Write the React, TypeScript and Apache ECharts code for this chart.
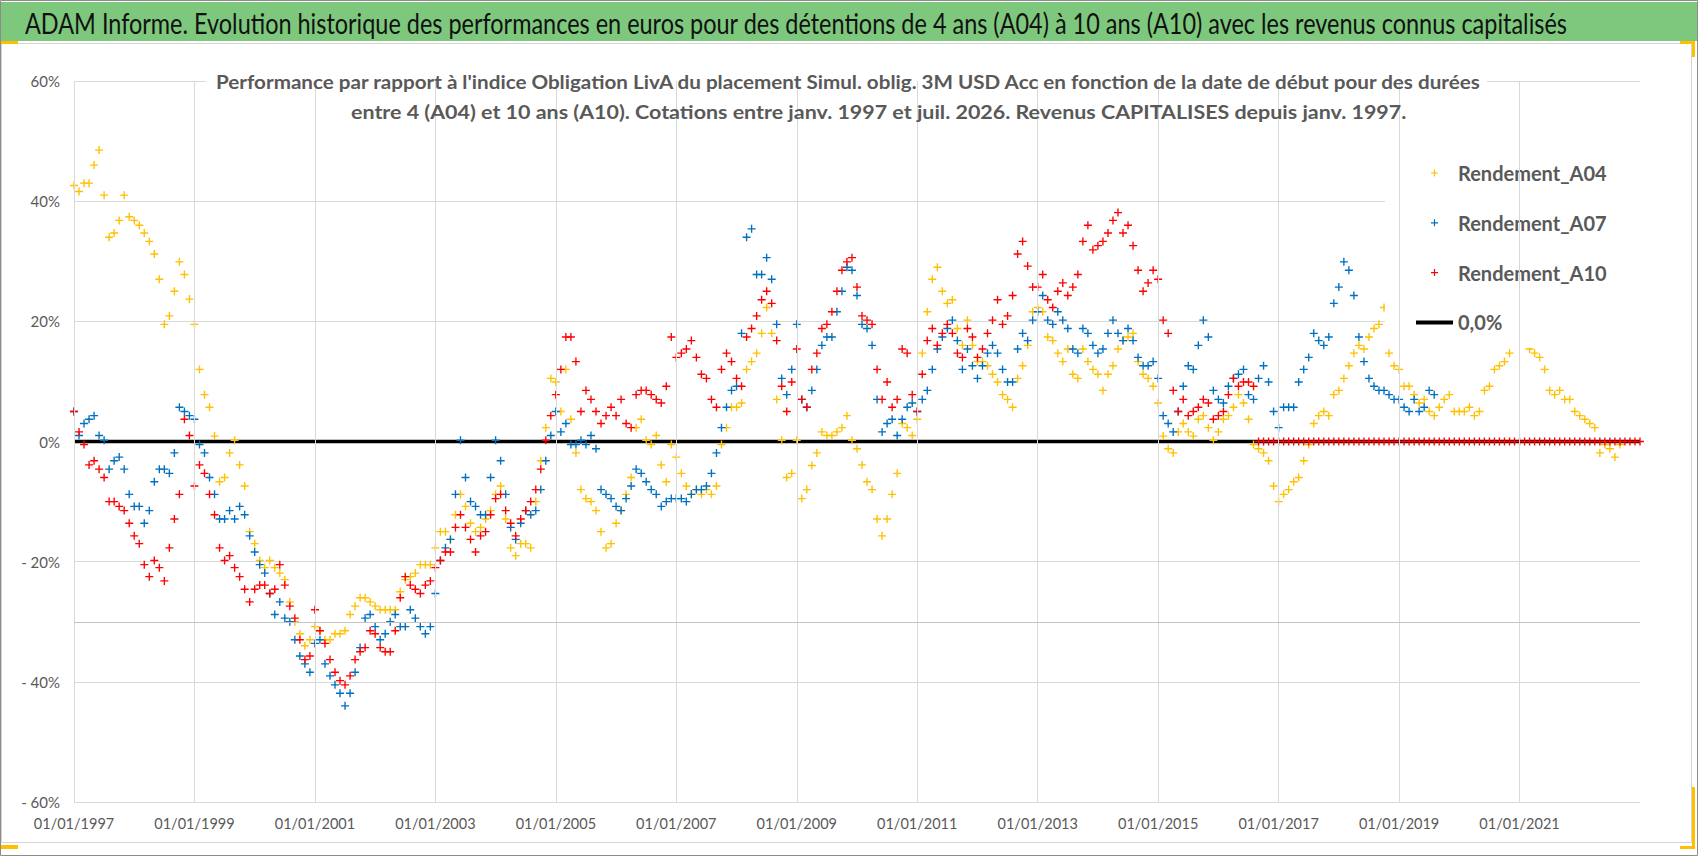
import React, { useEffect, useRef } from 'react';
import * as echarts from 'echarts';

// ---------- DATA (monthly values, % , first value = January 1997) ----------
const START_YEAR = 1997;

const RENDEMENT_A04 = [
  42.6, 41.6, 43, 43, 46, 48.5, 41, 34, 34.7, 36.8, 41, 37.4,
  36.8, 36, 34.7, 33.3, 31.2, 27, 19.5, 20.9, 25, 29.9, 27.8, 23.7,
  19.5, 12, 7.8, 5.7, 0.9, -6.7, -6, -1.9, 0.2, -3.9, -7.4, -15,
  -17, -19.8, -21, -19.8, -21, -21.9, -23, -26.7, -30, -32, -34, -33,
  -30.8, -31.5, -33, -33, -32, -32, -31.5, -28.8, -27.4, -26, -26, -26.7,
  -27.4, -28, -28, -28, -28, -25, -23, -22.5, -21.9, -20.5, -20.5, -20.5,
  -17.7, -15, -15, -16.3, -12.2, -8.8, -10.8, -13.6, -15, -14.3, -12.9, -11.5,
  -8.8, -7.4, -12.9, -17.7, -19, -17, -17, -17.7, -10, -3.2, 2.3, 10.5,
  9.9, 5, 12, 3.7, -1.9, -8, -9.5, -10, -11.5, -15, -17.7, -17,
  -13.6, -11.5, -8.8, -6, 2.3, 3.7, 0.2, -0.5, 1, -3.9, -6.7, -0.5,
  -2.6, -5.3, -7.4, -8.8, -8, -8.8, -8, -8.8, -7.4, -0.5, 2.3, 5.7,
  5.7, 6.4, 12, 13.3, 14.7, 18, 22.3, 18, 7, 0.2, -6, -5.3,
  0.2, -9.5, -8, -4, -1.9, 1.6, 1, 1, 1.6, 2.3, 4.3, 0.2,
  -1.2, -3.9, -6.7, -8, -12.9, -15.7, -12.9, -8.8, -5.3, 3, 2.3, 1,
  3.7, 14.7, 21.6, 27, 29, 25, 23, 23.6, 18.8, 16, 20.2, 16,
  13.3, 13.3, 12.6, 11.2, 9.9, 7.8, 7, 5.7, 10.5, 12.6, 16, 21.6,
  22.3, 21.6, 17.4, 16.8, 14.7, 13.3, 15.4, 11.2, 10.5, 15.4, 13.3, 12,
  11.2, 8.5, 11.2, 12.6, 15.4, 16.8, 17.4, 18, 13.3, 11.2, 10.5, 9.2,
  6.4, 0.9, -1.2, -1.9, 1.6, 3, 1.6, 0.9, 3.7, 4.3, 2.3, 0.2,
  1.6, 3.7, 4.3, 5.7, 7.8, 6.4, 3.7, -0.5, -1.2, -1.9, -3.2, -7.4,
  -10, -8.8, -8, -6.7, -6, -3.2, -0.5, 3, 4.3, 5, 4.3, 7.8,
  8.5, 10.5, 12.6, 14.7, 16, 15.4, 17.4, 18.8, 19.5, 22.3, 14.7, 12.6,
  12, 9.2, 9.2, 7.8, 6.4, 7, 5, 4.3, 5.7, 7, 7.8, 5,
  5, 5, 5.7, 4.3, 5, 8.5, 9.2, 12, 12.6, 13.3, 14.7, 18,
  19, 18, 15.4, 14.7, 14, 12, 8.5, 7.8, 8.5, 7, 7, 5,
  4.3, 3.7, 3, 2.3, -1.9, -0.5, -1.2, -2.6, -0.5,
];

const RENDEMENT_A07 = [
  5, 1, 3, 3.7, 4.3, 1, 0.2, -4.6, -3.2, -2.6, -4.6, -8.8,
  -10.8, -10.8, -13.6, -11.5, -6.7, -4.6, -4.6, -5.3, -1.9, 5.7, 5, 4.3,
  3.7, -0.5, -1.9, -6, -8.8, -12.9, -12.9, -11.5, -12.9, -10.8, -12.2, -15.7,
  -18.4, -20.5, -21.9, -25.3, -28.8, -26.7, -29.4, -30, -33, -35.7, -37, -38.4,
  -33.6, -33, -37, -39, -40.5, -41.9, -44, -41.9, -38.4, -34.3, -29.4, -28.8,
  -30.8, -33, -32, -30, -28.8, -30.8, -30.8, -28, -29.4, -30.8, -32, -30.8,
  -25.3, -19.8, -17.7, -16.3, -8.8, 0.2, -6, -10, -10.8, -12.2, -12.2, -6,
  0.2, -3.2, -8.8, -14.3, -16.3, -13.6, -11.5, -12.2, -11.5, -8, -3.2, 1,
  5, 1.6, 3, -0.5, -0.5, 0.2, -0.5, 1, -1.2, -8, -8.8, -9.5,
  -10.8, -11.5, -9.5, -7.4, -4.6, -5.3, -6.7, -8, -8.8, -10.8, -10, -9.5,
  -9.5, -9.5, -10, -8.8, -8, -8, -7.4, -5.3, -1.9, 2.3, 5.7, 8.5,
  9.2, 18, 34, 35.4, 27.8, 27.8, 30.6, 27, 19.5, 10.5, 7.8, 12,
  19.5, 7, 5.7, 8.5, 12, 16, 17.4, 17.4, 21.6, 25, 29, 28.5,
  24.3, 19.5, 18.8, 16, 7, 1.6, 3, 3.7, 1, 3.7, 5.7, 6.4,
  5, 7, 8.5, 12, 15.4, 17.4, 18.8, 20.2, 16.8, 12, 15.4, 12.6,
  10.5, 12.6, 14.7, 16, 14.7, 12, 9.9, 9.9, 15.4, 18, 16.8, 20.2,
  21.6, 24.3, 20.2, 19.5, 21.6, 20.2, 18.8, 15.4, 14.7, 18.8, 18, 16,
  14.7, 15.4, 18, 20.2, 18, 16.8, 18.8, 16.8, 14, 12.6, 12.6, 13.3,
  10.5, 4.3, 3, 1.6, 5, 9.2, 12.6, 12, 16, 20.2, 17.4, 8.5,
  7, 6.4, 9.2, 10.5, 11.2, 12, 7.8, 7, 10.5, 12.6, 9.9, 5,
  2.3, 5.7, 5.7, 5.7, 9.9, 12, 14, 18, 16.8, 16, 17.4, 23,
  25.7, 29.9, 28.5, 24.3, 17.4, 13.3, 10.5, 9.2, 8.5, 8.5, 7.8, 7,
  7, 5.7, 5, 7, 5, 5.7, 8.5, 7.8,
];

const RENDEMENT_A10 = [
  5, 1.6, -0.5, -3.9, -3.2, -4.6, -6, -10, -10, -10.8, -11.5, -13.6,
  -15.7, -17, -20.5, -22.5, -19.8, -21, -23.2, -17.7, -12.9, -8.8, 3.7, 1,
  -7.4, -3.9, -5.3, -8.8, -12.2, -17.7, -19.8, -19, -21, -22.5, -24.6, -26.7,
  -24.6, -23.9, -23.9, -25.3, -24.6, -20.5, -23.9, -27.4, -29.4, -33, -36.3, -35.7,
  -28, -31.5, -33.6, -36.3, -38.4, -39.8, -40.5, -39, -36.3, -35, -34.3, -31.5,
  -32, -34.3, -35, -35, -31.5, -26, -22.5, -23.9, -24.6, -25.3, -23.9, -23.2,
  -21, -19.8, -18.4, -18.4, -14.3, -12.2, -14.3, -16.3, -18.4, -15.7, -15, -12.2,
  -9.5, -8.8, -11.5, -13.6, -15.7, -12.9, -11.5, -10, -8, -4.6, 0.2, 4.3,
  7.8, 12, 17.4, 17.4, 13.3, 5, 8.5, 7, 5, 3, 4.3, 5.7,
  4.3, 7, 3, 2.3, 7.8, 8.5, 8.5, 7.8, 7, 6.4, 9.2, 17.4,
  14, 14.7, 15.4, 16.8, 14, 11.2, 10.5, 7, 5.7, 12, 14.7, 13.3,
  10.5, 9.2, 17.4, 18.8, 20.9, 23.6, 25, 23, 16.8, 9.2, 5, 9.9,
  15.4, 7, 5.7, 12, 14.7, 18.8, 19.5, 21.6, 25, 28.5, 29.9, 30.6,
  25.7, 20.9, 20.2, 19.5, 12, 7, 9.9, 5.7, 7, 15.4, 14.7, 7.8,
  5, 11.2, 16.8, 18.8, 16, 18, 19.5, 18, 14.7, 14, 18.8, 17.4,
  14, 15.4, 18, 20.2, 23.6, 19.5, 20.9, 24.3, 31.2, 33.3, 29.2, 25.7,
  25.7, 27.8, 23.6, 22.3, 25, 26.4, 24.3, 25.7, 27.8, 33.3, 36, 31.9,
  32.6, 33.3, 34.7, 36.8, 38.1, 34.7, 36, 32.6, 28.5, 25, 26.4, 28.5,
  27, 20.2, 18, 8.5, 5, 7, 4.3, 5, 5.7, 7, 6.4, 3.7,
  4.3, 5, 7.8, 10.5, 9.2, 9.9, 9.9, 9.2, 0, 0, 0, 0,
  0, 0, 0, 0, 0, 0, 0, 0, 0, 0, 0, 0,
  0, 0, 0, 0, 0, 0, 0, 0, 0, 0, 0, 0,
  0, 0, 0, 0, 0, 0, 0, 0, 0, 0, 0, 0,
  0, 0, 0, 0, 0, 0, 0, 0, 0, 0, 0, 0,
  0, 0, 0, 0, 0, 0, 0, 0, 0, 0, 0, 0,
  0, 0, 0, 0, 0, 0, 0, 0, 0, 0, 0, 0,
  0,
];

const ZERO_LINE = [[1997, 0], [2023, 0]];
const X_TICKS = [1997, 1999, 2001, 2003, 2005, 2007, 2009, 2011, 2013, 2015, 2017, 2019, 2021];
const EXTRA_Y_LINES = [-30];

const TITLE = 'ADAM Informe. Evolution historique des performances en euros pour des détentions de 4 ans (A04) à 10 ans (A10) avec les revenus connus capitalisés';
const SUB1 = "Performance par rapport à l'indice Obligation LivA du placement Simul. oblig. 3M USD Acc en fonction de la date de début pour des durées";
const SUB2 = 'entre 4 (A04) et 10 ans (A10). Cotations entre janv. 1997 et juil. 2026. Revenus CAPITALISES depuis janv. 1997.';

const SERIES_NAMES = ['Rendement_A04', 'Rendement_A07', 'Rendement_A10'];
const SERIES_COLORS = ['#FFC000', '#0070C0', '#FF0000'];
const ZERO_NAME = '0,0%';

// ---------- helpers ----------
const W = 1698;
const H = 856;
const FONT = 'Lato';
const PLUS = 'path://M4.15,0H5.85V4.15H10V5.85H5.85V10H4.15V5.85H0V4.15H4.15Z';
const PLUS_ICON = 'path://M0,0M37,12M17.9,2.5H19.1V5.4H22V6.6H19.1V9.5H17.9V6.6H15V5.4H17.9Z';
const LINE_ICON = 'path://M0,0M37,12M0,4H37V8H0Z';

const toPoints = (vals: number[]) => vals.map((v, i) => [START_YEAR + i / 12, v]);

function measure(text: string, font: string): number {
  const c = document.createElement('canvas').getContext('2d');
  if (!c) return 1;
  c.font = font;
  return c.measureText(text).width || 1;
}

function fittedText(text: string, left: number, right: number, cy: number, size: number, weight: string, fill: string) {
  const w = measure(text, `${weight} ${size}px ${FONT}`);
  return {
    type: 'text',
    x: left,
    y: cy,
    scaleX: (right - left) / w,
    z: 6,
    silent: true,
    style: { text, fontSize: size, fontWeight: weight, fontFamily: FONT, fill, align: 'left', verticalAlign: 'middle' },
  };
}

function buildOption() {
  const allSeries = [RENDEMENT_A04, RENDEMENT_A07, RENDEMENT_A10];
  return {
    animation: false,
    backgroundColor: '#ffffff',
    textStyle: { fontFamily: FONT },
    grid: { left: 74, top: 81, width: 1566, height: 721, containLabel: false },
    xAxis: {
      type: 'value',
      min: 1997,
      max: 2023,
      interval: 2,
      axisLine: { show: true, lineStyle: { color: '#d9d9d9', width: 1.5 } },
      axisTick: { show: false },
      splitLine: { show: false },
      axisLabel: {
        color: '#595959',
        fontSize: 14.5,
        fontFamily: FONT,
        margin: 14,
        formatter: (v: number) => (v >= 2023 ? '' : '01/01/' + v),
      },
    },
    yAxis: {
      type: 'value',
      min: -60,
      max: 60,
      interval: 20,
      axisLine: { show: false },
      axisTick: { show: false },
      splitLine: { show: true, lineStyle: { color: '#d9d9d9', width: 1 } },
      axisLabel: {
        color: '#595959',
        fontSize: 15,
        fontFamily: FONT,
        margin: 14,
        formatter: (v: number) => (v < 0 ? '- ' + Math.abs(v) + '%' : v + '%'),
      },
    },
    legend: {
      orient: 'vertical',
      left: 1385,
      top: 143,
      padding: [19, 33, 14, 31],
      backgroundColor: '#ffffff',
      itemWidth: 37,
      itemHeight: 12,
      itemGap: 27.8,
      selectedMode: false,
      textStyle: { color: '#595959', fontSize: 20, fontWeight: 'bold', fontFamily: FONT, lineHeight: 22 },
      data: [
        ...SERIES_NAMES.map((n) => ({ name: n, icon: PLUS_ICON })),
        { name: ZERO_NAME, icon: LINE_ICON },
      ],
    },
    graphic: [
      { type: 'rect', z: -10, silent: true, shape: { x: 0.5, y: 0.5, width: W - 1, height: H - 1 }, style: { fill: 'none', stroke: '#8c8c8c', lineWidth: 1 } },
      { type: 'rect', z: -9, silent: true, shape: { x: 1, y: 2, width: W - 2, height: 39 }, style: { fill: '#7ec87e' } },
      { type: 'rect', z: -9, silent: true, shape: { x: 1.5, y: 43.5, width: 1690, height: 799 }, style: { fill: 'none', stroke: '#d4d4d4', lineWidth: 1 } },
      { type: 'rect', z: -8, silent: true, shape: { x: 1, y: 41, width: 17, height: 3 }, style: { fill: '#FFC000' } },
      { type: 'rect', z: -8, silent: true, shape: { x: 1680, y: 41, width: 15, height: 3 }, style: { fill: '#FFC000' } },
      { type: 'rect', z: -8, silent: true, shape: { x: 1692, y: 41, width: 3, height: 16 }, style: { fill: '#FFC000' } },
      { type: 'rect', z: -8, silent: true, shape: { x: 1692, y: 787, width: 3, height: 62 }, style: { fill: '#FFC000' } },
      { type: 'rect', z: -8, silent: true, shape: { x: 1680, y: 846, width: 15, height: 3 }, style: { fill: '#FFC000' } },
      { type: 'rect', z: -8, silent: true, shape: { x: 1, y: 845, width: 17, height: 4 }, style: { fill: '#FFC000' } },
      { type: 'rect', z: 1.5, silent: true, shape: { x: 206, y: 66, width: 1281, height: 64 }, style: { fill: '#ffffff' } },
      fittedText(TITLE, 25, 1569, 23, 29, 'normal', '#111111'),
      fittedText(SUB1, 216, 1483, 81, 19.5, 'bold', '#595959'),
      fittedText(SUB2, 351, 1407, 111, 19.5, 'bold', '#595959'),
    ],
    series: [
      {
        type: 'line',
        name: '__grid',
        data: [[1997, 0]],
        symbol: 'none',
        silent: true,
        z: 1,
        lineStyle: { opacity: 0 },
        markLine: {
          silent: true,
          symbol: ['none', 'none'],
          label: { show: false },
          animation: false,
          lineStyle: { color: '#d9d9d9', width: 1, type: 'solid' },
          data: [
            ...X_TICKS.map((x) => ({ xAxis: x })),
            ...EXTRA_Y_LINES.map((y) => ({ yAxis: y, lineStyle: { color: '#c4c4c4', width: 1.2, type: 'solid' } })),
          ],
        },
      },
      {
        type: 'line',
        name: ZERO_NAME,
        data: ZERO_LINE,
        symbol: 'none',
        silent: true,
        z: 2,
        color: '#000000',
        itemStyle: { color: '#000000' },
        lineStyle: { color: '#000000', width: 3.5 },
      },
      ...SERIES_NAMES.map((name, i) => ({
        type: 'scatter',
        name,
        data: toPoints(allSeries[i]),
        symbol: PLUS,
        symbolSize: 8,
        silent: true,
        z: 3,
        itemStyle: { color: SERIES_COLORS[i], opacity: 1 },
      })),
    ],
  };
}

export default function App() {
  const ref = useRef<HTMLDivElement>(null);
  useEffect(() => {
    document.body.style.margin = '0';
    if (!ref.current) return;
    const chart = echarts.init(ref.current, null, { renderer: 'svg', width: W, height: H });
    chart.setOption(buildOption() as any);
    return () => chart.dispose();
  }, []);
  return <div ref={ref} style={{ position: 'absolute', left: 0, top: 0, width: W, height: H }} />;
}
